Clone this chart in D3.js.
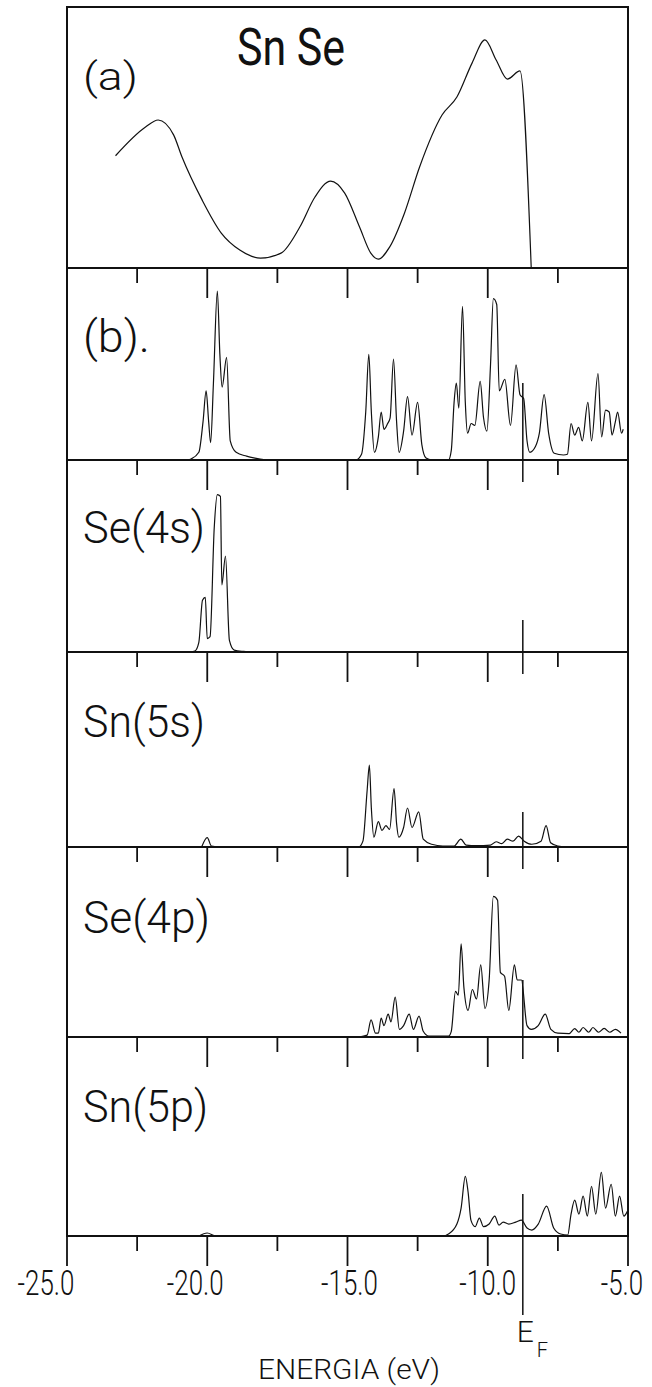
<!DOCTYPE html>
<html>
<head>
<meta charset="utf-8">
<script src="https://cdn.jsdelivr.net/npm/d3@7"></script>
<style>
  body { margin: 0; background: #fff; }
  svg { display: block; }
  text { font-family: Roboto, "Liberation Sans", sans-serif; fill: #111; }
</style>
</head>
<body>
<svg id="chart" width="652" height="1387"></svg>
<script>
// energies in eV, values in % of panel height
const totalSmooth = [[-23.27,43],[-22.2,54],[-21.75,56.7],[-21.2,51],[-20.9,42.5],[-20.18,26],[-19.5,13.4],[-18.84,6.9],[-18.1,3.8],[-17.37,5.7],[-16.7,15.7],[-16.16,27.2],[-15.6,33.3],[-15.1,28.7],[-14.57,15.7],[-14.17,5.7],[-13.9,3.4],[-13.5,8],[-12.97,21],[-12.43,38.7],[-11.63,58.6],[-11.1,65.5],[-10.56,78.5],[-10.1,87.4],[-9.7,79.7],[-9.3,72.4],[-8.85,75.5],[-8.45,0]];

const totalDos = [[-20.7,0],[-20.58,0.5],[-20.3,4],[-20.15,20],[-20.04,36],[-19.95,20],[-19.88,9],[-19.78,40],[-19.64,88],[-19.55,55],[-19.47,38],[-19.31,53.5],[-19.18,10],[-18.97,4],[-18.6,2],[-18.3,1],[-17.8,0],
  [-14.7,0],[-14.5,3],[-14.35,25],[-14.24,55],[-14.15,25],[-14.04,4],[-13.9,12],[-13.8,25],[-13.7,16],[-13.57,19],[-13.48,22],[-13.36,52.6],[-13.25,20],[-13.16,4],[-13.0,15],[-12.86,33],[-12.7,13],[-12.5,30],[-12.35,8],[-12.2,1],[-12.0,0],
  [-11.4,0],[-11.3,5],[-11.2,30],[-11.12,40],[-11.03,27],[-10.9,80],[-10.8,30],[-10.72,14],[-10.59,19],[-10.46,18],[-10.27,41],[-10.15,22],[-10.03,15],[-9.9,50],[-9.8,84],[-9.68,81],[-9.59,36],[-9.39,42],[-9.19,18],[-8.99,49.5],[-8.85,34],[-8.72,32],[-8.6,10],[-8.5,4],[-8.3,7],[-8.16,14],[-7.99,34],[-7.83,14],[-7.63,3.5],[-7.3,2.6],[-7.16,3],[-7.03,19],[-6.9,13],[-6.76,17],[-6.63,10],[-6.43,30],[-6.3,10],[-6.07,45],[-5.94,12],[-5.8,26],[-5.67,25],[-5.57,13],[-5.45,20],[-5.37,25],[-5.23,14],[-5.17,16]];

const se4s = [[-20.6,0],[-20.44,0.5],[-20.3,5],[-20.17,27],[-20.07,28.5],[-20.0,7],[-19.9,8],[-19.75,65],[-19.64,82],[-19.53,81],[-19.48,35],[-19.35,50],[-19.21,6],[-19.04,1],[-18.7,0.3],[-18.3,0]];

const sn5s = [[-20.2,0],[-20.0,4.8],[-19.85,0.5],[-19.5,0],
  [-14.6,0],[-14.45,3],[-14.3,29],[-14.22,42],[-14.15,20],[-14.06,5],[-13.9,13],[-13.77,8.5],[-13.63,11],[-13.5,9],[-13.34,30],[-13.25,12],[-13.17,5],[-13.0,10],[-12.86,20],[-12.7,10],[-12.46,18],[-12.3,4],[-12.0,1.4],[-11.6,0.5],[-11.2,0.5],[-10.96,4],[-10.77,1],[-10.4,0.7],[-9.9,1],[-9.7,2.7],[-9.5,1.7],[-9.3,4],[-9.1,3],[-8.9,5.6],[-8.7,3],[-8.43,1.4],[-8.1,3],[-7.92,11],[-7.76,2.2],[-7.5,0.5],[-7.2,0]];

const se4p = [[-14.6,0],[-14.3,1],[-14.16,9],[-14.0,2],[-13.9,2],[-13.8,10],[-13.7,6],[-13.55,12],[-13.45,8],[-13.3,21],[-13.15,4],[-13.0,6],[-12.8,12],[-12.65,4],[-12.45,11],[-12.3,3],[-12.1,0.5],[-11.4,0.5],[-11.3,3],[-11.15,24],[-11.05,22],[-10.95,49],[-10.85,26],[-10.7,14],[-10.55,25],[-10.4,20],[-10.25,38],[-10.1,15],[-9.95,30],[-9.8,74],[-9.65,72],[-9.55,34],[-9.4,32],[-9.25,14],[-9.05,38],[-8.95,30],[-8.8,30],[-8.6,6],[-8.45,4],[-8.2,6],[-7.95,12],[-7.75,4],[-7.5,2],[-7.1,1.8],[-6.9,4.4],[-6.75,2.5],[-6.6,5],[-6.4,2.5],[-6.25,5],[-6.05,2.5],[-5.85,4.5],[-5.65,2.5],[-5.45,4],[-5.25,2]];

const sn5p = [[-20.3,0],[-20.0,1.5],[-19.7,0],
  [-11.6,0],[-11.4,1],[-11.1,6],[-10.95,14],[-10.8,30],[-10.7,22],[-10.6,8],[-10.45,4.7],[-10.3,9],[-10.15,4.7],[-9.95,6],[-9.75,10],[-9.6,5.5],[-9.45,7],[-9.25,6],[-9.0,7],[-8.8,8],[-8.6,4],[-8.43,3],[-8.2,6],[-7.9,15],[-7.65,4],[-7.4,1],[-7.15,0.5],[-7.03,11],[-6.9,18],[-6.75,11],[-6.6,20],[-6.45,10],[-6.3,25],[-6.15,11],[-5.95,32],[-5.8,14],[-5.6,26],[-5.45,10],[-5.3,20],[-5.15,10],[-5.0,13]];

const panelLabels = ["(a)", "(b).", "Se(4s)", "Sn(5s)", "Se(4p)", "Sn(5p)"];
const panelSeries = [totalSmooth, totalDos, se4s, sn5s, se4p, sn5p];
const majorTicks = [-25, -20, -15, -10, -5];
const minorTicks = [-22.5, -17.5, -12.5, -7.5];
const tickLabels = ["-25.0", "-20.0", "-15.0", "-10.0", "-5.0"];
const fermiEnergy = -8.75;
const title = "Sn Se";
const xTitle = "ENERGIA (eV)";

// layout
const edges = [7, 268, 460, 652, 847, 1037, 1236];
const efUp = [0, 77, 32, 35, 57, 42];   // E_F mark height above each panel's baseline
const labelBase = [90, 352, 543, 737, 933, 1122];
const labelW = [55, 67, 122, 122, 127, 125];
const tickNudge = [-21, -12, 2, 0, -6];

const svg = d3.select("#chart");
const x = d3.scaleLinear().domain([-25, -5]).range([67, 628]);

const g = svg.append("g");

panelSeries.forEach((series, i) => {
  const y = d3.scaleLinear().domain([0, 100]).range([edges[i + 1], edges[i]]);
  const line = d3.line()
    .curve(d3.curveMonotoneX)
    .x(d => x(d[0]))
    .y(d => y(d[1]));
  g.append("path")
    .attr("d", line(series))
    .attr("fill", "none")
    .attr("stroke", "#111")
    .attr("stroke-width", 1.2);

  g.append("text")
    .attr("x", 83)
    .attr("y", labelBase[i])
    .attr("font-size", i == 0 ? 38 : 44)
    .attr("font-weight", 300)
    .attr("textLength", labelW[i])
    .attr("lengthAdjust", "spacingAndGlyphs")
    .text(panelLabels[i]);
});

// frame
g.append("rect")
  .attr("x", x(-25)).attr("y", edges[0])
  .attr("width", x(-5) - x(-25)).attr("height", edges[6] - edges[0])
  .attr("fill", "none").attr("stroke", "#111").attr("stroke-width", 2);

// panel separators, ticks pointing down from each, and the Fermi level marks
edges.slice(1).forEach((yy, k) => {
  g.append("line")
    .attr("x1", x(-25)).attr("x2", x(-5))
    .attr("y1", yy).attr("y2", yy)
    .attr("stroke", "#111").attr("stroke-width", 1.8);
  const majors = k == 5 ? majorTicks : majorTicks.slice(1, 4);
  g.selectAll(null).data(majors).enter().append("line")
    .attr("x1", d => x(d)).attr("x2", d => x(d))
    .attr("y1", yy).attr("y2", yy + 30)
    .attr("stroke", "#111").attr("stroke-width", 1.8);
  g.selectAll(null).data(minorTicks).enter().append("line")
    .attr("x1", d => x(d)).attr("x2", d => x(d))
    .attr("y1", yy).attr("y2", yy + 15)
    .attr("stroke", "#111").attr("stroke-width", 1.8);
  const down = k == 0 ? 0 : (k == 5 ? 79 : 22);
  g.append("line")
    .attr("x1", x(fermiEnergy)).attr("x2", x(fermiEnergy))
    .attr("y1", yy - efUp[k]).attr("y2", yy + down)
    .attr("stroke", "#111").attr("stroke-width", 1.5);
});

// tick labels (narrow lettering: squeeze horizontally)
g.selectAll(null).data(majorTicks).enter().append("text")
  .attr("transform", (d, i) => `translate(${x(d) + tickNudge[i]},1295) scale(0.72,1)`)
  .attr("text-anchor", "middle")
  .attr("font-size", 36)
  .attr("font-weight", 300)
  .text((d, i) => tickLabels[i]);

// E_F label
g.append("text").attr("x", x(fermiEnergy) - 6).attr("y", 1342)
  .attr("font-size", 30).attr("font-weight", 300).text("E");
g.append("text").attr("x", x(fermiEnergy) + 14).attr("y", 1357)
  .attr("font-size", 20).attr("font-weight", 300).text("F");

// title
g.append("text").attr("x", 237).attr("y", 65)
  .attr("font-size", 52).attr("font-weight", 400)
  .attr("textLength", 108).attr("lengthAdjust", "spacingAndGlyphs")
  .text(title);

g.append("text").attr("x", 349).attr("y", 1379)
  .attr("text-anchor", "middle")
  .attr("font-size", 28).attr("font-weight", 300)
  .attr("textLength", 182).attr("lengthAdjust", "spacingAndGlyphs")
  .text(xTitle);
</script>
</body>
</html>
